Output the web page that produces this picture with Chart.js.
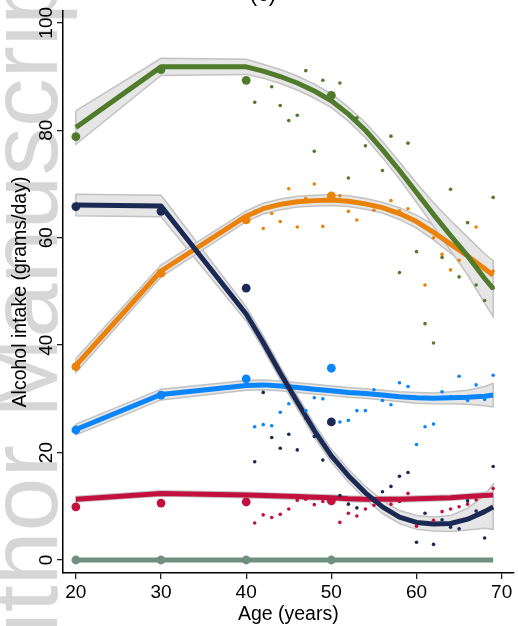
<!DOCTYPE html>
<html>
<head>
<meta charset="utf-8">
<script src="https://cdn.jsdelivr.net/npm/chart.js@4/dist/chart.umd.min.js"></script>
<style>
  html, body { margin: 0; padding: 0; background: #fff; }
  #wrap { width: 518px; height: 626px; position: relative; }
</style>
</head>
<body>
<div id="wrap"><canvas id="c" width="518" height="626"></canvas></div>
<script>
// ---- axis ticks ----
const xTicks = [20, 30, 40, 50, 60, 70];
const yTicks = [0, 20, 40, 60, 80, 100];

// ---- fitted curves, tabulated by age ----
const fitAges   = [20, 30, 40, 42, 44, 46, 48, 50, 52, 54, 56, 58, 60, 62, 64, 66, 68, 69];
const greenFit  = [80.5, 91.8, 91.8, 91.0, 90.0, 88.8, 87.3, 85.5, 83.0, 80.0, 76.4, 72.5, 68.4, 64.3, 60.4, 56.6, 52.4, 50.5];
const greenCI   = [3.1, 1.6, 1.4, 1.3, 1.3, 1.3, 1.3, 1.3, 1.3, 1.4, 1.5, 1.6, 1.8, 2.2, 2.8, 3.5, 4.6, 5.2];
const orangeFit = [36.2, 53.8, 64.0, 65.4, 66.2, 66.7, 66.9, 67.0, 66.8, 66.3, 65.6, 64.5, 63.0, 61.0, 58.8, 56.6, 54.2, 53.0];
const orangeCI  = [1.3, 1.1, 1.0, 1.0, 1.0, 1.0, 1.0, 1.0, 1.0, 1.0, 1.0, 1.1, 1.2, 1.4, 1.7, 2.0, 2.4, 2.7];
const navyFit   = [66.1, 65.9, 45.8, 40.5, 34.8, 29.4, 24.1, 19.4, 15.7, 12.5, 9.9, 8.0, 7.0, 6.7, 6.8, 7.6, 9.0, 9.9];
const navyCI    = [2.0, 2.0, 1.3, 1.2, 1.2, 1.2, 1.2, 1.2, 1.2, 1.2, 1.2, 1.2, 1.3, 1.3, 1.5, 2.0, 3.1, 4.2];
const blueFit   = [24.3, 30.8, 32.5, 32.6, 32.4, 32.1, 31.8, 31.5, 31.2, 31.0, 30.7, 30.4, 30.2, 30.1, 30.2, 30.3, 30.5, 30.7];
const blueCI    = [1.0, 1.0, 0.9, 0.9, 0.9, 0.9, 0.9, 0.9, 0.9, 0.9, 0.9, 0.9, 1.0, 1.0, 1.1, 1.3, 1.8, 2.2];
const redFit    = [11.3, 12.4, 12.1, 12.0, 11.9, 11.8, 11.7, 11.6, 11.4, 11.3, 11.3, 11.3, 11.4, 11.5, 11.6, 11.8, 12.0, 12.1];
const redCI     = [0.5, 0.5, 0.5, 0.5, 0.5, 0.5, 0.5, 0.5, 0.5, 0.5, 0.5, 0.5, 0.5, 0.5, 0.5, 0.5, 0.6, 0.6];
const grayFit   = [0, 0, 0, 0, 0, 0, 0, 0, 0, 0, 0, 0, 0, 0, 0, 0, 0, 0];

// ---- group means (large markers) ----
const meanAges    = [20, 30, 40, 50];
const greenMeans  = [78.8, 91.3, 89.3, 86.5];
const orangeMeans = [36.0, 53.4, 63.3, 67.8];
const navyMeans   = [65.8, 64.9, 50.6, 25.7];
const blueMeans   = [24.2, 30.7, 33.7, 35.7];
const redMeans    = [9.9, 10.6, 10.8, 11.0];
const grayMeans   = [0, 0, 0, 0];

// ---- single-year values (small markers) ----
const greenAges  = [41, 43, 44, 45, 46, 47, 48, 49, 51, 52, 53, 54, 55, 56, 57, 58, 59, 60, 61, 62, 63, 64, 65, 66, 67, 68, 69, 69];
const greenVals  = [85.2, 88.1, 84.6, 81.8, 82.8, 91.1, 76.1, 89.3, 88.8, 71.1, 82.3, 77.1, 78.1, 72.5, 78.9, 53.5, 77.6, 57.4, 44.0, 40.4, 56.3, 69.0, 52.7, 62.8, 51.2, 48.3, 67.5, 50.6];
const orangeAges = [41, 42, 43, 44, 45, 46, 47, 48, 49, 51, 52, 53, 55, 57, 58, 59, 61, 62, 63, 64, 65, 67, 68, 69];
const orangeVals = [64.9, 61.7, 64.5, 63.0, 69.1, 62.0, 67.3, 70.0, 62.1, 67.8, 64.9, 63.3, 65.1, 66.9, 65.0, 65.4, 51.2, 60.0, 56.9, 54.0, 55.8, 62.0, 54.4, 53.8];
const navyAges   = [41, 42, 43, 44, 45, 46, 47, 48, 49, 51, 52, 53, 55, 56, 57, 58, 59, 60, 61, 62, 63, 64, 65, 66, 67, 68, 69];
const navyVals   = [18.3, 31.2, 22.8, 20.8, 23.4, 20.5, 26.4, 23.0, 18.6, 12.0, 10.4, 9.7, 11.0, 12.7, 13.7, 15.6, 16.3, 3.3, 8.7, 2.9, 7.5, 6.1, 5.8, 11.0, 9.1, 4.1, 17.4];
const blueAges   = [41, 42, 43, 44, 45, 47, 48, 49, 51, 52, 53, 54, 55, 56, 57, 58, 59, 60, 61, 62, 63, 64, 65, 66, 67, 68, 69];
const blueVals   = [24.8, 25.2, 25.0, 27.5, 29.1, 27.8, 30.2, 30.0, 25.7, 26.0, 27.8, 27.8, 31.7, 29.7, 28.9, 33.0, 32.3, 21.5, 24.8, 25.3, 31.3, 30.4, 34.2, 29.7, 32.6, 29.9, 34.4];
const redAges    = [41, 42, 43, 44, 45, 46, 47, 48, 49, 51, 52, 53, 54, 55, 57, 58, 59, 60, 62, 63, 64, 65, 66, 67, 69];
const redVals    = [6.9, 8.4, 7.9, 8.5, 9.5, 11.1, 11.3, 10.3, 10.9, 7.0, 8.7, 8.2, 9.5, 10.2, 10.4, 10.9, 12.4, 6.3, 7.4, 9.0, 9.5, 9.9, 10.4, 11.2, 13.3];

// ---- colours ----
const COL = {
  green: '#4f7b2a', orange: '#ea820c', navy: '#1b2a55',
  blue: '#0b85fb', red: '#c3103e', gray: '#6f8f80',
  band: '#e6e6e6', bandEdge: '#c2c2c2'
};
const FONT = '"Liberation Sans", Arial, Helvetica, sans-serif';

const pts = (xs, ys) => xs.map((x, i) => ({ x, y: ys[i] }));

// confidence band as one closed polygon: upper edge forward, lower edge back
function bandShape(fit, half) {
  const up = fitAges.map((a, i) => ({ x: a, y: fit[i] + half[i] }));
  const lo = fitAges.map((a, i) => ({ x: a, y: fit[i] - half[i] })).reverse();
  return up.concat(lo, [up[0]]);
}

function band(fit, half) {
  return {
    type: 'line', data: bandShape(fit, half), order: 30,
    showLine: true, fill: 'shape', tension: 0,
    backgroundColor: COL.band, borderColor: COL.bandEdge, borderWidth: 1.5,
    pointRadius: 0
  };
}
function fitLine(fit, color, order) {
  return {
    type: 'line', data: pts(fitAges, fit), order,
    showLine: true, fill: false, tension: 0,
    borderColor: color, borderWidth: 5, borderJoinStyle: 'round', borderCapStyle: 'butt',
    pointRadius: 0
  };
}
function dots(xs, ys, color, r) {
  return {
    type: 'scatter', data: pts(xs, ys), order: 1,
    showLine: false, pointRadius: r, pointHoverRadius: r,
    pointBackgroundColor: color, pointBorderWidth: 0, backgroundColor: color
  };
}

const datasets = [
  band(greenFit, greenCI),
  band(orangeFit, orangeCI),
  band(navyFit, navyCI),
  band(blueFit, blueCI),
  band(redFit, redCI),
  fitLine(grayFit, COL.gray, 16),
  fitLine(redFit, COL.red, 15),
  fitLine(blueFit, COL.blue, 14),
  fitLine(orangeFit, COL.orange, 13),
  fitLine(navyFit, COL.navy, 12),
  fitLine(greenFit, COL.green, 11),
  dots(greenAges, greenVals, COL.green, 1.8),
  dots(orangeAges, orangeVals, COL.orange, 1.8),
  dots(navyAges, navyVals, COL.navy, 1.8),
  dots(blueAges, blueVals, COL.blue, 1.8),
  dots(redAges, redVals, COL.red, 1.8),
  dots(meanAges, greenMeans, COL.green, 4.4),
  dots(meanAges, orangeMeans, COL.orange, 4.4),
  dots(meanAges, navyMeans, COL.navy, 4.4),
  dots(meanAges, blueMeans, COL.blue, 4.4),
  dots(meanAges, redMeans, COL.red, 4.4),
  dots(meanAges, grayMeans, COL.gray, 4.4)
];

// faint vertical watermark behind the plot
const watermark = {
  id: 'watermark',
  beforeDraw(chart) {
    const ctx = chart.ctx;
    ctx.save();
    ctx.translate(57, 731);
    ctx.rotate(-Math.PI / 2);
    ctx.font = '97px ' + FONT;
    ctx.fillStyle = '#d6d6d6';
    ctx.textBaseline = 'alphabetic';
    ctx.textAlign = 'left';
    ctx.fillText('Author Manuscript', 0, 0);
    ctx.restore();
  }
};

// axis labels, rotated y labels and the panel title
const axisText = {
  id: 'axisText',
  afterDraw(chart) {
    const ctx = chart.ctx;
    const xs = chart.scales.x, ys = chart.scales.y, ca = chart.chartArea;
    ctx.save();
    ctx.fillStyle = '#000';
    ctx.font = '19px ' + FONT;
    ctx.textAlign = 'center';
    ctx.textBaseline = 'alphabetic';
    xTicks.forEach(v => ctx.fillText(String(v), xs.getPixelForValue(v), 598));
    yTicks.forEach(v => {
      ctx.save();
      ctx.translate(52, ys.getPixelForValue(v));
      ctx.rotate(-Math.PI / 2);
      ctx.fillText(String(v), 0, 0);
      ctx.restore();
    });
    ctx.font = '19.5px ' + FONT;
    ctx.fillText('Age (years)', (ca.left + ca.right) / 2, 620);
    ctx.save();
    ctx.translate(26, (ca.top + ca.bottom) / 2);
    ctx.rotate(-Math.PI / 2);
    ctx.fillText('Alcohol intake (grams/day)', 0, 0);
    ctx.restore();
    ctx.font = '23px ' + FONT;
    ctx.fillText('(c)', 263, 1);
    ctx.restore();
  }
};

new Chart(document.getElementById('c'), {
  type: 'scatter',
  data: { datasets },
  options: {
    responsive: false,
    animation: false,
    devicePixelRatio: 1,
    layout: { padding: { top: 11, right: 0, left: 0, bottom: 0 } },
    plugins: { legend: { display: false }, tooltip: { enabled: false }, title: { display: false } },
    scales: {
      x: {
        type: 'linear', min: 18.49, max: 71.4,
        afterBuildTicks: s => { s.ticks = xTicks.map(v => ({ value: v })); },
        afterFit: s => { s.height = 53; },
        ticks: { display: false },
        border: { display: true, color: '#000', width: 1.5 },
        grid: { display: true, drawOnChartArea: false, drawTicks: true, tickLength: 6, color: '#222', lineWidth: 1.3 }
      },
      y: {
        type: 'linear', min: -2.42, max: 102.2,
        afterBuildTicks: s => { s.ticks = yTicks.map(v => ({ value: v })); },
        afterFit: s => { s.width = 63; },
        ticks: { display: false },
        border: { display: true, color: '#000', width: 1.5 },
        grid: { display: true, drawOnChartArea: false, drawTicks: true, tickLength: 6, color: '#222', lineWidth: 1.3 }
      }
    }
  },
  plugins: [watermark, axisText]
});
</script>
</body>
</html>
